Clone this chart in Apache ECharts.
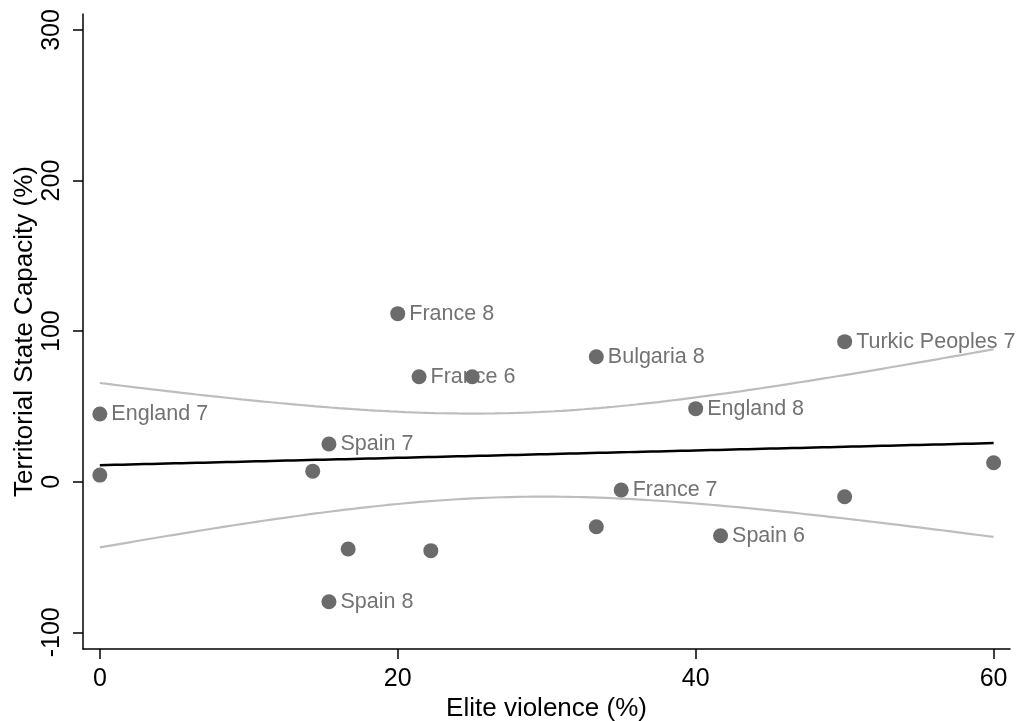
<!DOCTYPE html>
<html>
<head>
<meta charset="utf-8">
<script src="https://cdn.jsdelivr.net/npm/echarts@6/dist/echarts.min.js"></script>
<style>
  html, body { margin: 0; padding: 0; background: #fff; }
  #chart { width: 1016px; height: 721px; }
</style>
</head>
<body>
<div id="chart"></div>
<script>
// ---- Data ----
const eliteViolence = [0, 0, 20, 21.43, 25, 33.33, 50, 40, 15.38, 14.29, 60, 35, 50, 33.33, 41.67, 16.67, 22.22, 15.38];
const stateCapacity = [45, 4.4, 111.6, 69.7, 69.7, 83, 93, 48.5, 25, 7, 12.6, -5.5, -10, -29.9, -35.9, -44.7, -45.8, -79.7];
const pointLabels = ['England 7', '', 'France 8', 'France 6', '', 'Bulgaria 8', 'Turkic Peoples 7', 'England 8', 'Spain 7', '', '', 'France 7', '', '', 'Spain 6', '', '', 'Spain 8'];
const xTicks = [0, 20, 40, 60];
const yTicks = [-100, 0, 100, 200, 300];
const xTitle = 'Elite violence (%)';
const yTitle = 'Territorial State Capacity (%)';

// ---- OLS fit with 95% confidence interval (derived from the data) ----
const n = eliteViolence.length;
const mx = eliteViolence.reduce((a, b) => a + b, 0) / n;
const my = stateCapacity.reduce((a, b) => a + b, 0) / n;
let sxx = 0, sxy = 0;
for (let i = 0; i < n; i++) {
  sxx += (eliteViolence[i] - mx) ** 2;
  sxy += (eliteViolence[i] - mx) * (stateCapacity[i] - my);
}
const slope = sxy / sxx;
const intercept = my - slope * mx;
let sse = 0;
for (let i = 0; i < n; i++) {
  const r = stateCapacity[i] - (intercept + slope * eliteViolence[i]);
  sse += r * r;
}
const s = Math.sqrt(sse / (n - 2));
const tCrit = 2.1199; // t(0.975, 16)
const xMinData = Math.min(...eliteViolence), xMaxData = Math.max(...eliteViolence);
const fitLine = [], ciUpper = [], ciLower = [];
const steps = 120;
for (let k = 0; k <= steps; k++) {
  const x = xMinData + (xMaxData - xMinData) * k / steps;
  const yhat = intercept + slope * x;
  const se = s * Math.sqrt(1 / n + (x - mx) ** 2 / sxx);
  fitLine.push([x, yhat]);
  ciUpper.push([x, yhat + tCrit * se]);
  ciLower.push([x, yhat - tCrit * se]);
}

const labeled = [], unlabeled = [];
for (let i = 0; i < n; i++) {
  if (pointLabels[i]) labeled.push({ value: [eliteViolence[i], stateCapacity[i]], name: pointLabels[i] });
  else unlabeled.push([eliteViolence[i], stateCapacity[i]]);
}

const font = "'Liberation Sans', Arial, Helvetica, sans-serif";
const chart = echarts.init(document.getElementById('chart'), null, { renderer: 'canvas' });
chart.setOption({
  animation: false,
  backgroundColor: '#ffffff',
  grid: { left: 83, right: 6, top: 14, bottom: 72, containLabel: false, outerBoundsMode: 'none' },
  xAxis: {
    type: 'value',
    min: -1.13, max: 61.1,
    name: xTitle, nameLocation: 'middle', nameGap: 47, nameMoveOverlap: false,
    nameTextStyle: { fontFamily: font, fontSize: 26, color: '#000' },
    axisLine: { show: true, onZero: false, lineStyle: { color: '#000', width: 1.5 } },
    axisTick: { show: true, customValues: xTicks, length: 10, inside: false, lineStyle: { color: '#000', width: 1.5 } },
    axisLabel: { customValues: xTicks, margin: 18, fontFamily: font, fontSize: 25, color: '#000' },
    splitLine: { show: false }
  },
  yAxis: {
    type: 'value',
    min: -111.1, max: 310.6,
    name: yTitle, nameLocation: 'middle', nameGap: 45, nameRotate: 90, nameMoveOverlap: false,
    nameTextStyle: { fontFamily: font, fontSize: 26, color: '#000' },
    axisLine: { show: true, onZero: false, lineStyle: { color: '#000', width: 1.5 } },
    axisTick: { show: true, customValues: yTicks, length: 10, inside: false, lineStyle: { color: '#000', width: 1.5 } },
    axisLabel: { customValues: yTicks, rotate: 90, margin: 18, fontFamily: font, fontSize: 25, color: '#000' },
    splitLine: { show: false }
  },
  series: [
    {
      type: 'line', data: ciUpper, showSymbol: false, symbol: 'none', silent: true, z: 2,
      lineStyle: { color: '#bdbdbd', width: 2.2 }
    },
    {
      type: 'line', data: ciLower, showSymbol: false, symbol: 'none', silent: true, z: 2,
      lineStyle: { color: '#bdbdbd', width: 2.2 }
    },
    {
      type: 'line', data: fitLine, showSymbol: false, symbol: 'none', silent: true, z: 2,
      lineStyle: { color: '#000000', width: 2.5 }
    },
    {
      type: 'scatter', data: labeled, symbol: 'circle', symbolSize: 15, z: 3,
      itemStyle: { color: '#6b6b6b', opacity: 1 },
      label: {
        show: true, position: 'right', distance: 4,
        formatter: p => p.name,
        fontFamily: font, fontSize: 21.5, color: '#727272'
      }
    },
    {
      type: 'scatter', data: unlabeled, symbol: 'circle', symbolSize: 15, z: 5,
      itemStyle: { color: '#6b6b6b', opacity: 1 }
    }
  ]
});
</script>
</body>
</html>
